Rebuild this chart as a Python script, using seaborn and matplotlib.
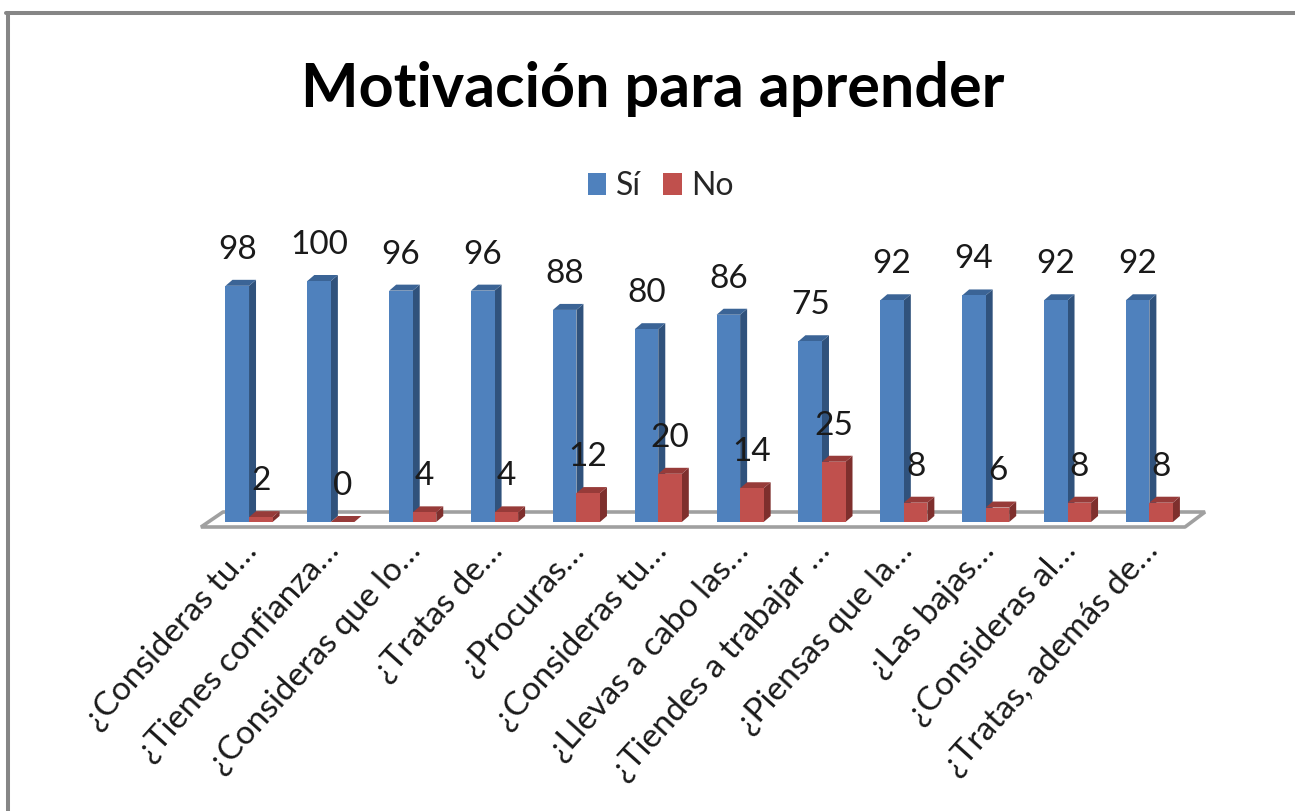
import matplotlib
matplotlib.use("Agg")
import matplotlib.pyplot as plt
import pandas as pd
import seaborn as sns
from matplotlib.lines import Line2D
from matplotlib.patches import Patch, Polygon
from matplotlib.transforms import IdentityTransform, ScaledTranslation

preguntas = ["¿Consideras tu…", "¿Tienes confianza…", "¿Consideras que lo…", "¿Tratas de…",
             "¿Procuras…", "¿Consideras tu…", "¿Llevas a cabo las…", "¿Tiendes a trabajar …",
             "¿Piensas que la…", "¿Las bajas…", "¿Consideras al…", "¿Tratas, además de…"]
si = [98, 100, 96, 96, 88, 80, 86, 75, 92, 94, 92, 92]
no = [2, 0, 4, 4, 12, 20, 14, 25, 8, 6, 8, 8]

colores = {"Sí": "#4F81BD", "No": "#C0504D"}
lado = {"Sí": "#30527C", "No": "#7E2F2D"}
tapa = {"Sí": "#3B6496", "No": "#973B39"}

W, H = 1295, 811
PROF_X, PROF_Y = 7, 6

sns.set_theme(style="white")
plt.rcParams["font.family"] = ["Lato", "DejaVu Sans"]

df = pd.DataFrame({"id": range(len(si)), "Sí": si, "No": no})
df = df.melt(id_vars="id", var_name="respuesta", value_name="valor")

fig = plt.figure(figsize=(W / 100, H / 100), dpi=100)
ax = fig.add_axes([208.1 / W, (H - 522) / H, 982.2 / W, 241 / H])
sns.barplot(data=df, x="id", y="valor", hue="respuesta", hue_order=["Sí", "No"], palette=colores,
            saturation=1, width=0.575, gap=0, linewidth=0, legend=False, ax=ax, zorder=3)
ax.set_xlim(-0.5, 11.5)
ax.set_ylim(0, 100)
ax.set_xlabel("")
ax.set_ylabel("")
ax.set_yticks([])
sns.despine(ax=ax, left=True, bottom=True)

# suelo del grafico, en pixeles
suelo = [(201, H - 527), (1185, H - 527), (1205, H - 512), (223, H - 512)]
ax.add_patch(Polygon(suelo, closed=True, facecolor="white", edgecolor="#A0A0A0", linewidth=2.6,
                     joinstyle="bevel", transform=IdentityTransform(), clip_on=False, zorder=1))

# caras laterales y superiores para el efecto 3D
fig.canvas.draw()
for cont, nombre in zip(ax.containers, ["Sí", "No"]):
    for bar in cont:
        (x0, y0), (x1, y1) = ax.transData.transform(bar.get_bbox().get_points())
        cara = [(x1, y0), (x1 + PROF_X, y0 + PROF_Y), (x1 + PROF_X, y1 + PROF_Y), (x1, y1)]
        arriba = [(x0, y1), (x1, y1), (x1 + PROF_X, y1 + PROF_Y), (x0 + PROF_X, y1 + PROF_Y)]
        ax.add_patch(Polygon(cara, closed=True, facecolor=lado[nombre], edgecolor="none",
                             transform=IdentityTransform(), clip_on=False, zorder=2))
        ax.add_patch(Polygon(arriba, closed=True, facecolor=tapa[nombre], edgecolor="none",
                             transform=IdentityTransform(), clip_on=False, zorder=2))
    for t in ax.bar_label(cont, fontsize=24, padding=26, color="#1A1A1A", zorder=5):
        t.set_va("center")
        t.set_clip_on(False)

ax.set_xticks(range(len(preguntas)))
ax.set_xticklabels(preguntas, rotation=48, ha="right", rotation_mode="anchor", fontsize=24, color="#1A1A1A")
ax.tick_params(axis="x", length=0, pad=10)
# las etiquetas van un poco a la izquierda del centro del grupo
corrimiento = ScaledTranslation(-8 / 100, 0, fig.dpi_scale_trans)
for t in ax.get_xticklabels():
    t.set_transform(t.get_transform() + corrimiento)

fig.text(653 / W, 1 - 89 / H, "Motivación para aprender", ha="center", va="center",
         fontsize=44, fontweight="bold", color="black")

handles = [Patch(facecolor=colores[k], edgecolor="none", label=k) for k in ["Sí", "No"]]
fig.legend(handles=handles, loc="center", bbox_to_anchor=(661 / W, 1 - 186 / H), ncol=2, frameon=False,
           fontsize=23, handlelength=0.58, handleheight=0.7, handletextpad=0.3, columnspacing=0.7,
           labelcolor="#262626")

# marco exterior, solo arriba e izquierda
fig.add_artist(Line2D([8 / W, 8 / W], [0, 1 - 13 / H], color="#868686", lw=2.9))
fig.add_artist(Line2D([6 / W, 1], [1 - 13 / H, 1 - 13 / H], color="#868686", lw=2.9))

fig.savefig("out.png", dpi=100)
